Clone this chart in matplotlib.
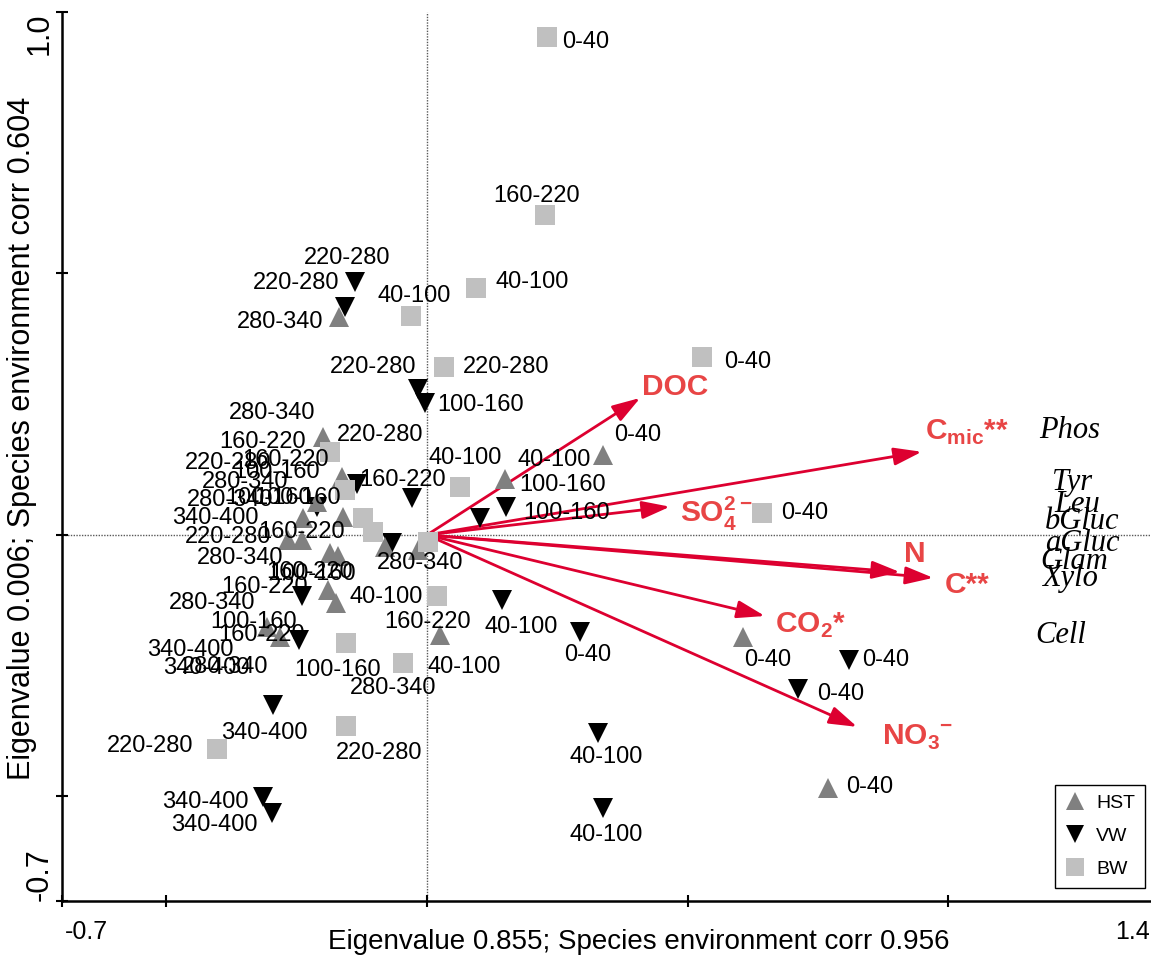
import matplotlib
matplotlib.use('Agg')
import matplotlib.pyplot as plt

plt.rcParams['font.family'] = ['Liberation Sans', 'DejaVu Sans']
plt.rcParams['mathtext.fontset'] = 'custom'
plt.rcParams['mathtext.bf'] = 'Liberation Sans:bold'
plt.rcParams['mathtext.rm'] = 'Liberation Sans'

# sample scores, site HST
hst_x = [-0.169, -0.199, -0.163, -0.211, -0.238, -0.161, -0.267, -0.240, -0.081, -0.017, -0.186,
         -0.171, -0.190, -0.175, -0.307, -0.282, 0.025, 0.150, 0.338, 0.606, 0.769]
hst_y = [0.417, 0.187, 0.111, 0.063, 0.033, 0.034, -0.010, -0.010, -0.023, -0.029, -0.034,
         -0.040, -0.105, -0.130, -0.176, -0.195, -0.191, 0.107, 0.153, -0.195, -0.484]
hst_lab = ["280-340", "280-340", "160-220", "100-160", "340-400", "280-340", "220-280", "220-280",
           "280-340", "280-340", "160-220", "280-340", "100-160", "280-340", "340-400", "340-400",
           "160-220", "100-160", "0-40", "0-40", "0-40"]

# site VW
vw_x = [-0.138, -0.157, -0.017, -0.004, -0.134, -0.029, -0.211, 0.102, 0.152, -0.067, -0.240,
        -0.245, 0.144, 0.293, 0.809, 0.712, 0.328, 0.338, -0.295, -0.315, -0.297]
vw_y = [0.484, 0.436, 0.279, 0.252, 0.098, 0.071, 0.054, 0.033, 0.054, -0.015, -0.117,
        -0.201, -0.124, -0.185, -0.239, -0.294, -0.379, -0.522, -0.325, -0.501, -0.532]
vw_lab = ["220-280", "220-280", "220-280", "100-160", "100-160", "160-220", "280-340", "40-100",
          "100-160", "100-160", "160-220", "40-100", "40-100", "0-40", "0-40", "0-40", "40-100",
          "40-100", "340-400", "340-400", "340-400"]

# site BW
bw_x = [0.230, 0.226, 0.094, -0.031, 0.033, 0.527, -0.186, -0.157, 0.063, -0.123, -0.104,
        0.002, 0.643, 0.019, -0.155, -0.046, -0.155, -0.403]
bw_y = [0.952, 0.612, 0.472, 0.419, 0.321, 0.340, 0.159, 0.086, 0.092, 0.033, 0.005,
        -0.013, 0.042, -0.117, -0.207, -0.245, -0.365, -0.409]
bw_lab = ["0-40", "160-220", "40-100", "40-100", "220-280", "0-40", "220-280", "100-160", "40-100",
          "160-220", "160-220", "160-220", "0-40", "40-100", "100-160", "280-340", "220-280", "220-280"]

# label offsets from the point, in pixels (right, down)
hst_off = [(-59, 5), (-51, -24), (-56, -17), (-48, -4), (-88, 0), (-98, -35), (-60, -3), (-74, -77),
           (-145, 11), (2, 13), (-65, 34), (-126, 47), (-74, 32), (-111, 64), (-77, 23), (-74, 31),
           (-12, -13), (57, 6), (34, -20), (25, 23), (42, -1)]
vw_off = [(-8, -24), (-49, -24), (-45, -22), (56, 2), (-60, 14), (-9, -18), (-87, -7), (74, -58),
          (60, 6), (-79, 31), (-40, 39), (165, 27), (19, 27), (8, 23), (37, 0), (42, 5), (8, 24),
          (3, 27), (-9, 28), (-57, 5), (-58, 12)]
bw_off = [(39, 5), (-8, -19), (56, -6), (3, -20), (62, 0), (46, 5), (50, -17), (-69, -18), (5, -29),
          (-61, 14), (-63, 40), (-165, -100), (42, 0), (-51, 1), (-9, 27), (-10, 25), (33, 27), (-67, -3)]

# environmental variables (arrow tips)
env_lab = ["DOC", r"C$_{\mathbf{mic}}$**", r"SO$_{\mathbf{4}}^{\mathbf{2-}}$", "N", "C**",
           r"CO$_{\mathbf{2}}$*", r"NO$_{\mathbf{3}}{}^{\mathbf{-}}$"]
env_x = [0.409, 0.949, 0.466, 0.907, 0.971, 0.648, 0.825]
env_y = [0.262, 0.159, 0.054, -0.071, -0.082, -0.155, -0.367]
env_tx = [0.412, 0.955, 0.485, 0.915, 0.993, 0.667, 0.873]
env_ty = [0.268, 0.182, 0.023, -0.052, -0.111, -0.187, -0.402]

# species (enzymes)
spec_lab = ["Phos", "Tyr", "Leu", "bGluc", "aGluc", "Glam", "Xylo", "Cell"]
spec_x = [1.174, 1.199, 1.204, 1.185, 1.185, 1.176, 1.180, 1.166]
spec_y = [0.185, 0.086, 0.044, 0.011, -0.031, -0.065, -0.098, -0.207]

fig = plt.figure(figsize=(11.51, 9.55), dpi=100)
ax = fig.add_axes([62/1151, 54/955, 1089/1151, 889/955])
ax.set_xlim(-0.7, 1.3886)
ax.set_ylim(-0.6998, 1.0)

ax.axhline(0, color='0.35', lw=1, ls=(0, (1, 1)), zorder=1)
ax.axvline(0, color='0.35', lw=1, ls=(0, (1, 1)), zorder=1)

ax.plot(vw_x, vw_y, 'v', color='black', ms=14, mew=0, ls='none', label='VW', zorder=3)
ax.plot(hst_x, hst_y, '^', color='#808080', ms=14, mew=0, ls='none', label='HST', zorder=4)
ax.plot(bw_x, bw_y, 's', color='#C0C0C0', ms=14.5, mew=0, ls='none', label='BW', zorder=5)

for xs, ys, labs, offs in [(hst_x, hst_y, hst_lab, hst_off), (vw_x, vw_y, vw_lab, vw_off),
                           (bw_x, bw_y, bw_lab, bw_off)]:
    for x, y, t, (dx, dy) in zip(xs, ys, labs, offs):
        ax.annotate(t, (x, y), xytext=(dx, -dy), textcoords='offset pixels',
                    ha='center', va='center', fontsize=17, color='black', zorder=6)

for x, y, t, tx, ty in zip(env_x, env_y, env_lab, env_tx, env_ty):
    ax.annotate('', xy=(x, y), xytext=(0, 0),
                arrowprops=dict(arrowstyle='-|>,head_length=0.85,head_width=0.27',
                                color='#DD0030', lw=2, mutation_scale=20, shrinkA=0, shrinkB=0),
                zorder=2)
    ax.text(tx, ty, t, color='#E84545', fontsize=21.5, fontweight='bold',
            ha='left', va='baseline', zorder=8)

for x, y, t in zip(spec_x, spec_y, spec_lab):
    ax.text(x, y, t, family='Liberation Serif', style='italic', fontsize=22,
            ha='left', va='baseline', color='black', zorder=8)

for s in ['top', 'right']:
    ax.spines[s].set_visible(False)
for s in ['left', 'bottom']:
    ax.spines[s].set_linewidth(1.8)
ax.set_xticks([-0.7, -0.5, 0, 0.5, 1.0])
ax.set_yticks([-0.7, -0.5, 0, 0.5, 1.0])
ax.set_xticklabels([])
ax.set_yticklabels([])
ax.tick_params(direction='inout', length=9, width=1.5)

ax.text(-0.694, -0.035, '-0.7', transform=ax.get_xaxis_transform(), ha='left', va='center', fontsize=18)
ax.text(1.387, -0.035, '1.4', transform=ax.get_xaxis_transform(), ha='right', va='center', fontsize=18)
ax.text(-0.0202, 1.0, '1.0', transform=ax.get_yaxis_transform(), rotation=90,
        ha='center', va='top', fontsize=22)
ax.text(-0.0202, -0.6998, '-0.7', transform=ax.get_yaxis_transform(), rotation=90,
        ha='center', va='bottom', fontsize=22)

ax.text(0.53, -0.046, 'Eigenvalue 0.855; Species environment corr 0.956', transform=ax.transAxes,
        ha='center', va='center', fontsize=20)
ax.text(-0.0367, 0.52, 'Eigenvalue 0.006; Species environment corr 0.604', transform=ax.transAxes,
        rotation=90, ha='center', va='center', fontsize=22)

h, l = ax.get_legend_handles_labels()
order = [1, 0, 2]
leg = ax.legend([h[i] for i in order], [l[i] for i in order], loc='lower right',
                bbox_to_anchor=(0.9945, 0.0146), fontsize=14, frameon=True, fancybox=False,
                edgecolor='black', framealpha=1, markerscale=0.9, handlelength=1.0,
                handletextpad=0.6, labelspacing=0.8, borderpad=0.5, borderaxespad=0)
leg.get_frame().set_linewidth(1)

fig.savefig('out.png', dpi=100)
